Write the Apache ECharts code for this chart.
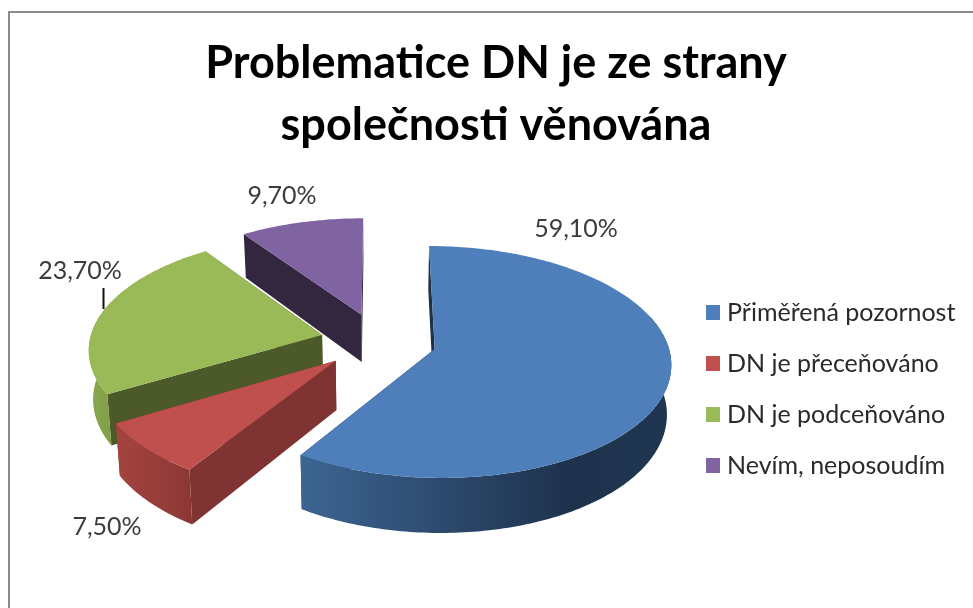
<!DOCTYPE html>
<html><head><meta charset="utf-8">
<style>html,body{margin:0;padding:0;background:#fff}#c{width:973px;height:608px}</style>
<script src="https://cdn.jsdelivr.net/npm/echarts@6/dist/echarts.min.js"></script>
</head><body><div id="c"></div>
<script>
const categories = ['Přiměřená pozornost','DN je přeceňováno','DN je podceňováno','Nevím, neposoudím'];
const values = [59.1, 7.5, 23.7, 9.7];
const valueLabels = ['59,10%','7,50%','23,70%','9,70%'];
const titleText = 'Problematice DN je ze strany\nspolečnosti věnována';

const topColors = ['#4e7fbb','#bf504d','#9aba58','#8063a1'];
const cutColors = ['#1d3148','#7f3332','#4b5a28','#33263f'];
const wallStops = [
  [[0,'#3d6592'],[0.72,'#1e324e'],[1,'#203650']],
  [[0,'#a5443f'],[1,'#8c3735']],
  [[0,'#8aa94f'],[1,'#7f9c48']],
  [[0,'#4a3a5f'],[1,'#33263f']]
];
const labelAnchors = [[576,229],[107,527],[80,271],[282,196]];

// projection of the exploded disc
const CX=378.5, CY=341, RX=232.5, RY=112.7, PERSP=0.111, EXPLODE=0.25, DEPTH=48.5, SHRINK=0.985;
function proj(U,V,bottom){
  const w=1-PERSP*V;
  let x=RX*U/w, y=RY*V/w;
  if(bottom){ x*=SHRINK; y+=DEPTH/w; }
  return [CX+x, CY+y];
}
const total = values.reduce((a,b)=>a+b,0);
function sliceGeom(i){
  let a0=0; for(let k=0;k<i;k++) a0+=values[k]/total*2*Math.PI;
  const a1=a0+values[i]/total*2*Math.PI, mid=(a0+a1)/2;
  const ox=EXPLODE*Math.sin(mid), oy=-EXPLODE*Math.cos(mid);
  const n=Math.max(8,Math.ceil((a1-a0)/(Math.PI/180)));
  const angles=[]; for(let k=0;k<=n;k++) angles.push(a0+(a1-a0)*k/n);
  const at=(t,bottom)=>proj(ox+Math.sin(t),oy-Math.cos(t),bottom);
  const front=angles.filter(t=>Math.cos(t)<=0.3);   // only the part of the rim that faces the viewer has a visible wall
  return {
    rimTop:angles.map(t=>at(t,false)),
    rimBot:angles.map(t=>at(t,true)),
    wallTop:front.map(t=>at(t,false)),
    wallBot:front.map(t=>at(t,true)),
    apexTop:proj(ox,oy,false),apexBot:proj(ox,oy,true)
  };
}
function renderSlice(i){
  return function(params,api){
    const g=sliceGeom(i), n=g.rimTop.length-1;
    const poly=(pts,fill)=>({type:'polygon',shape:{points:pts},style:{fill:fill,stroke:null},silent:true});
    const wallFill=new echarts.graphic.LinearGradient(0,0,1,0,wallStops[i].map(s=>({offset:s[0],color:s[1]})));
    const children=[
      poly([g.apexTop,g.rimTop[0],g.rimBot[0],g.apexBot],cutColors[i]),
      poly([g.apexTop,g.rimTop[n],g.rimBot[n],g.apexBot],cutColors[i])
    ];
    if(g.wallTop.length>1) children.push(poly(g.wallTop.concat(g.wallBot.slice().reverse()),wallFill));
    children.push(
      poly([g.apexTop].concat(g.rimTop),topColors[i]),
      {type:'text',silent:true,style:{text:valueLabels[i],x:labelAnchors[i][0],y:labelAnchors[i][1],
        align:'center',verticalAlign:'middle',fill:'#3c3c3c',font:'25px Lato'}}
    );
    return {type:'group',children};
  };
}
const zOrder=[5,4,3,2];
const chart=echarts.init(document.getElementById('c'),null,{renderer:'canvas'});
chart.setOption({
  animation:false,
  backgroundColor:'#fff',
  title:{text:titleText,left:491,top:27,textAlign:'center',
    textStyle:{fontFamily:'Lato',fontWeight:'bold',fontSize:45,lineHeight:62,color:'#000'}},
  legend:{data:categories,orient:'vertical',left:701,top:295,icon:'rect',itemWidth:14,itemHeight:15,itemGap:26,
    selectedMode:false,textStyle:{fontFamily:'Lato',fontSize:25,color:'#2a2a2a',padding:[0,0,0,2],height:22,lineHeight:22}},
  graphic:[
    {type:'rect',shape:{x:8,y:11,width:965,height:2},style:{fill:'#8c8c8c'},silent:true},
    {type:'rect',shape:{x:8,y:11,width:2,height:597},style:{fill:'#8c8c8c'},silent:true},
    {type:'line',shape:{x1:103.5,y1:288,x2:103.5,y2:309},style:{stroke:'#111',lineWidth:2},silent:true,z:20}
  ],
  series:categories.map((name,i)=>({
    type:'custom',name,coordinateSystem:'none',z:zOrder[i],
    itemStyle:{color:topColors[i]},
    data:[[values[i]]],
    renderItem:renderSlice(i)
  }))
});
</script></body></html>
